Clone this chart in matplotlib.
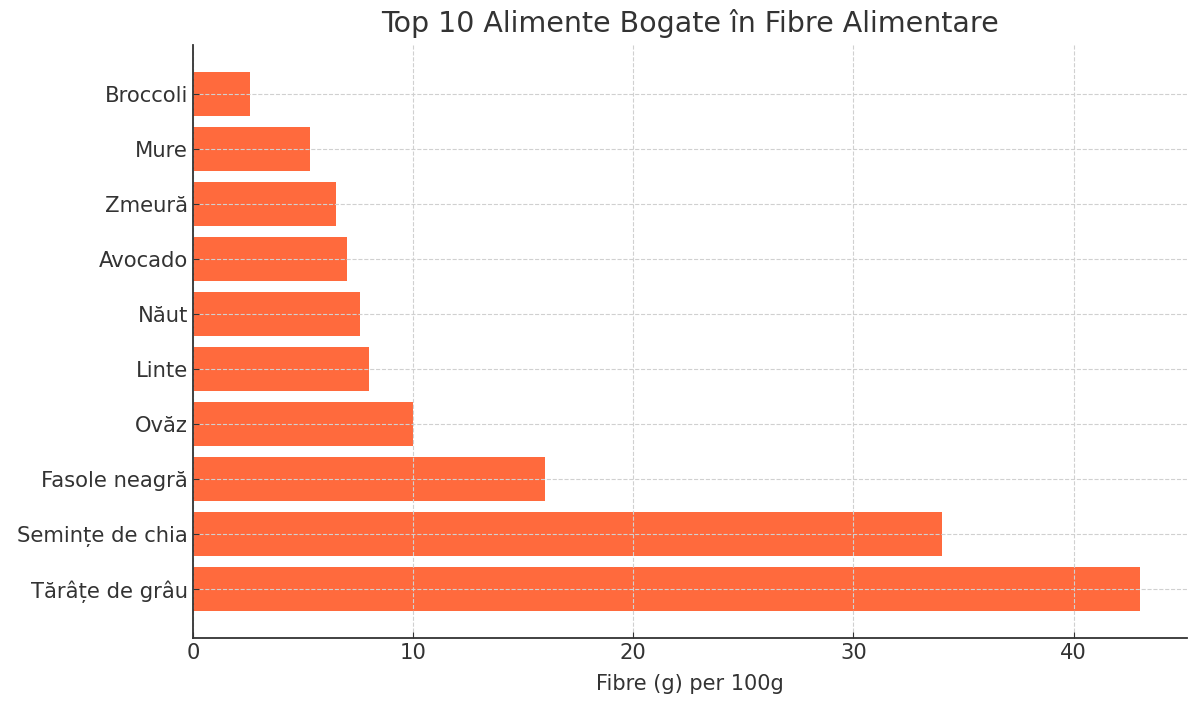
import matplotlib.pyplot as plt

# date: fibre alimentare la 100g
alimente = ['Tărâțe de grâu', 'Semințe de chia', 'Fasole neagră', 'Ovăz', 'Linte',
            'Năut', 'Avocado', 'Zmeură', 'Mure', 'Broccoli']
fibre = [43, 34, 16, 10, 8, 7.6, 7, 6.5, 5.3, 2.6]

text_color = '#333333'

fig = plt.figure(figsize=(12, 7.07), dpi=100)
ax = fig.add_subplot(111)
fig.subplots_adjust(left=193/1200, right=1187/1200, top=1-45/707, bottom=1-638/707)

ax.barh(alimente, fibre, height=0.8, color='#FF6A3D')

ax.set_title('Top 10 Alimente Bogate în Fibre Alimentare', fontsize=20.5, color=text_color, pad=9)
ax.set_xlabel('Fibre (g) per 100g', fontsize=15, color=text_color, labelpad=8)

ax.grid(True, linestyle='--', color='#d0d0d0', linewidth=0.8)
ax.tick_params(direction='in', labelsize=15.2, colors=text_color, length=4)
for s in ['top', 'right']:
    ax.spines[s].set_visible(False)
for s in ['left', 'bottom']:
    ax.spines[s].set_color('#333333')
    ax.spines[s].set_linewidth(1.3)

fig.savefig('out.png', dpi=100)
